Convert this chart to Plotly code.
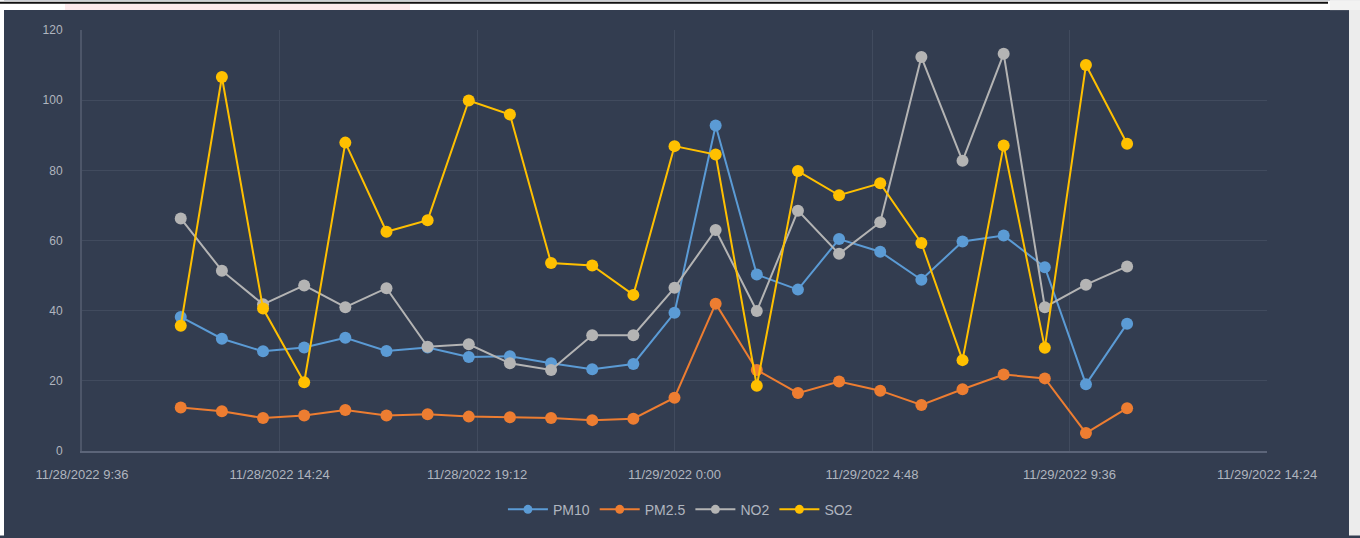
import plotly.graph_objects as go

times = [
    "2022-11-28 12:00", "2022-11-28 13:00", "2022-11-28 14:00", "2022-11-28 15:00",
    "2022-11-28 16:00", "2022-11-28 17:00", "2022-11-28 18:00", "2022-11-28 19:00",
    "2022-11-28 20:00", "2022-11-28 21:00", "2022-11-28 22:00", "2022-11-28 23:00",
    "2022-11-29 00:00", "2022-11-29 01:00", "2022-11-29 02:00", "2022-11-29 03:00",
    "2022-11-29 04:00", "2022-11-29 05:00", "2022-11-29 06:00", "2022-11-29 07:00",
    "2022-11-29 08:00", "2022-11-29 09:00", "2022-11-29 10:00", "2022-11-29 11:00",
]

pm10 = [38.2, 32.0, 28.4, 29.5, 32.3, 28.5, 29.5, 26.8, 27.0, 25.0, 23.3, 24.8,
        39.4, 92.8, 50.3, 46.0, 60.4, 56.8, 48.8, 59.7, 61.4, 52.4, 19.0, 36.3]
pm25 = [12.4, 11.3, 9.4, 10.1, 11.7, 10.1, 10.5, 9.8, 9.6, 9.4, 8.8, 9.2,
        15.2, 42.0, 23.1, 16.5, 19.8, 17.2, 13.1, 17.6, 21.8, 20.7, 5.1, 12.2]
no2 = [66.3, 51.4, 41.8, 47.2, 41.0, 46.4, 29.7, 30.4, 25.0, 23.1, 33.0, 33.0,
       46.5, 63.0, 39.9, 68.5, 56.2, 65.2, 112.3, 82.7, 113.2, 41.0, 47.4, 52.6]
so2 = [35.7, 106.6, 40.6, 19.6, 87.9, 62.5, 65.8, 99.9, 95.9, 53.6, 52.9, 44.5,
       86.9, 84.5, 18.6, 79.8, 72.9, 76.3, 59.3, 25.9, 87.1, 29.4, 110.0, 87.6]

series_names = ["PM10", "PM2.5", "NO2", "SO2"]
series_colors = ["#5b9bd5", "#ed7d31", "#b4b4b4", "#ffc000"]

x_tick_vals = ["2022-11-28 09:36", "2022-11-28 14:24", "2022-11-28 19:12",
               "2022-11-29 00:00", "2022-11-29 04:48", "2022-11-29 09:36",
               "2022-11-29 14:24"]
x_tick_text = ["11/28/2022 9:36", "11/28/2022 14:24", "11/28/2022 19:12",
               "11/29/2022 0:00", "11/29/2022 4:48", "11/29/2022 9:36",
               "11/29/2022 14:24"]
y_ticks = [0, 20, 40, 60, 80, 100, 120]

W, H = 1360, 538
L, R, T, B = 82, 1267, 30, 453
PANEL = "#333d50"
TXT = "#b0b5bf"


def px(xpix):
    return (xpix - L) / (R - L)


def py(ypix):
    return 1 - (ypix - T) / (B - T)


fig = go.Figure()
for name, vals, col in zip(series_names, [pm10, pm25, no2, so2], series_colors):
    fig.add_trace(go.Scatter(
        x=times, y=vals, name=name, mode="lines+markers",
        line=dict(color=col, width=2),
        marker=dict(color=col, size=12),
        legendgroup=name, showlegend=False,
    ))
# legend entries with smaller symbols, as in the original
for name, col in zip(series_names, series_colors):
    fig.add_trace(go.Scatter(
        x=[None], y=[None], name=name, mode="lines+markers",
        line=dict(color=col, width=2),
        marker=dict(color=col, size=9),
        legendgroup=name, showlegend=True,
    ))

shapes = [
    dict(type="rect", xref="paper", yref="paper", x0=px(0), x1=px(W), y0=py(10), y1=py(0),
         fillcolor="white", line=dict(width=0), layer="below"),
    dict(type="rect", xref="paper", yref="paper", x0=px(65), x1=px(410), y0=py(10), y1=py(4),
         fillcolor="#fde9ec", line=dict(width=0), layer="below"),
    dict(type="line", xref="paper", yref="paper", x0=px(0), x1=px(1328), y0=py(2.5), y1=py(2.5),
         line=dict(color="#111111", width=2)),
    dict(type="rect", xref="paper", yref="paper", x0=px(0), x1=px(4), y0=py(H), y1=py(0),
         fillcolor="white", line=dict(width=0), layer="below"),
    dict(type="rect", xref="paper", yref="paper", x0=px(1349), x1=px(W), y0=py(H), y1=py(10),
         fillcolor="#ececec", line=dict(width=0), layer="below"),
    dict(type="rect", xref="paper", yref="paper", x0=px(1330), x1=px(W), y0=py(10), y1=py(0),
         fillcolor="#f2f2f2", line=dict(width=0), layer="below"),
]

fig.update_layout(
    width=W, height=H, autosize=False,
    margin=dict(l=L, r=W - R, t=T, b=H - B, pad=0),
    paper_bgcolor=PANEL, plot_bgcolor=PANEL,
    font=dict(family="Liberation Sans, Arial, sans-serif", size=12, color=TXT),
    showlegend=True,
    legend=dict(orientation="h", x=0.505, xanchor="center", y=py(512), yanchor="middle",
                font=dict(size=14, color=TXT), bgcolor="rgba(0,0,0,0)",
                itemwidth=40, tracegroupgap=0),
    xaxis=dict(
        type="date", range=[x_tick_vals[0], x_tick_vals[-1]],
        tickmode="array", tickvals=x_tick_vals, ticktext=x_tick_text,
        showgrid=True, gridcolor="#414b5e", gridwidth=1,
        showline=True, linecolor="#5c6579", linewidth=2,
        zeroline=False, ticks="", ticklabelstandoff=10,
        tickfont=dict(size=13, color=TXT),
    ),
    yaxis=dict(
        range=[0, 120], tickmode="array", tickvals=y_ticks,
        showgrid=True, gridcolor="#414b5e", gridwidth=1,
        showline=True, linecolor="#4d5669", linewidth=2,
        zeroline=False, ticks="", ticklabelstandoff=15,
        tickfont=dict(size=12, color=TXT),
    ),
    shapes=shapes,
)

fig.write_html("out.html", config={"displayModeBar": False},
               post_script="document.body.style.margin='0';document.body.style.overflow='hidden';")
